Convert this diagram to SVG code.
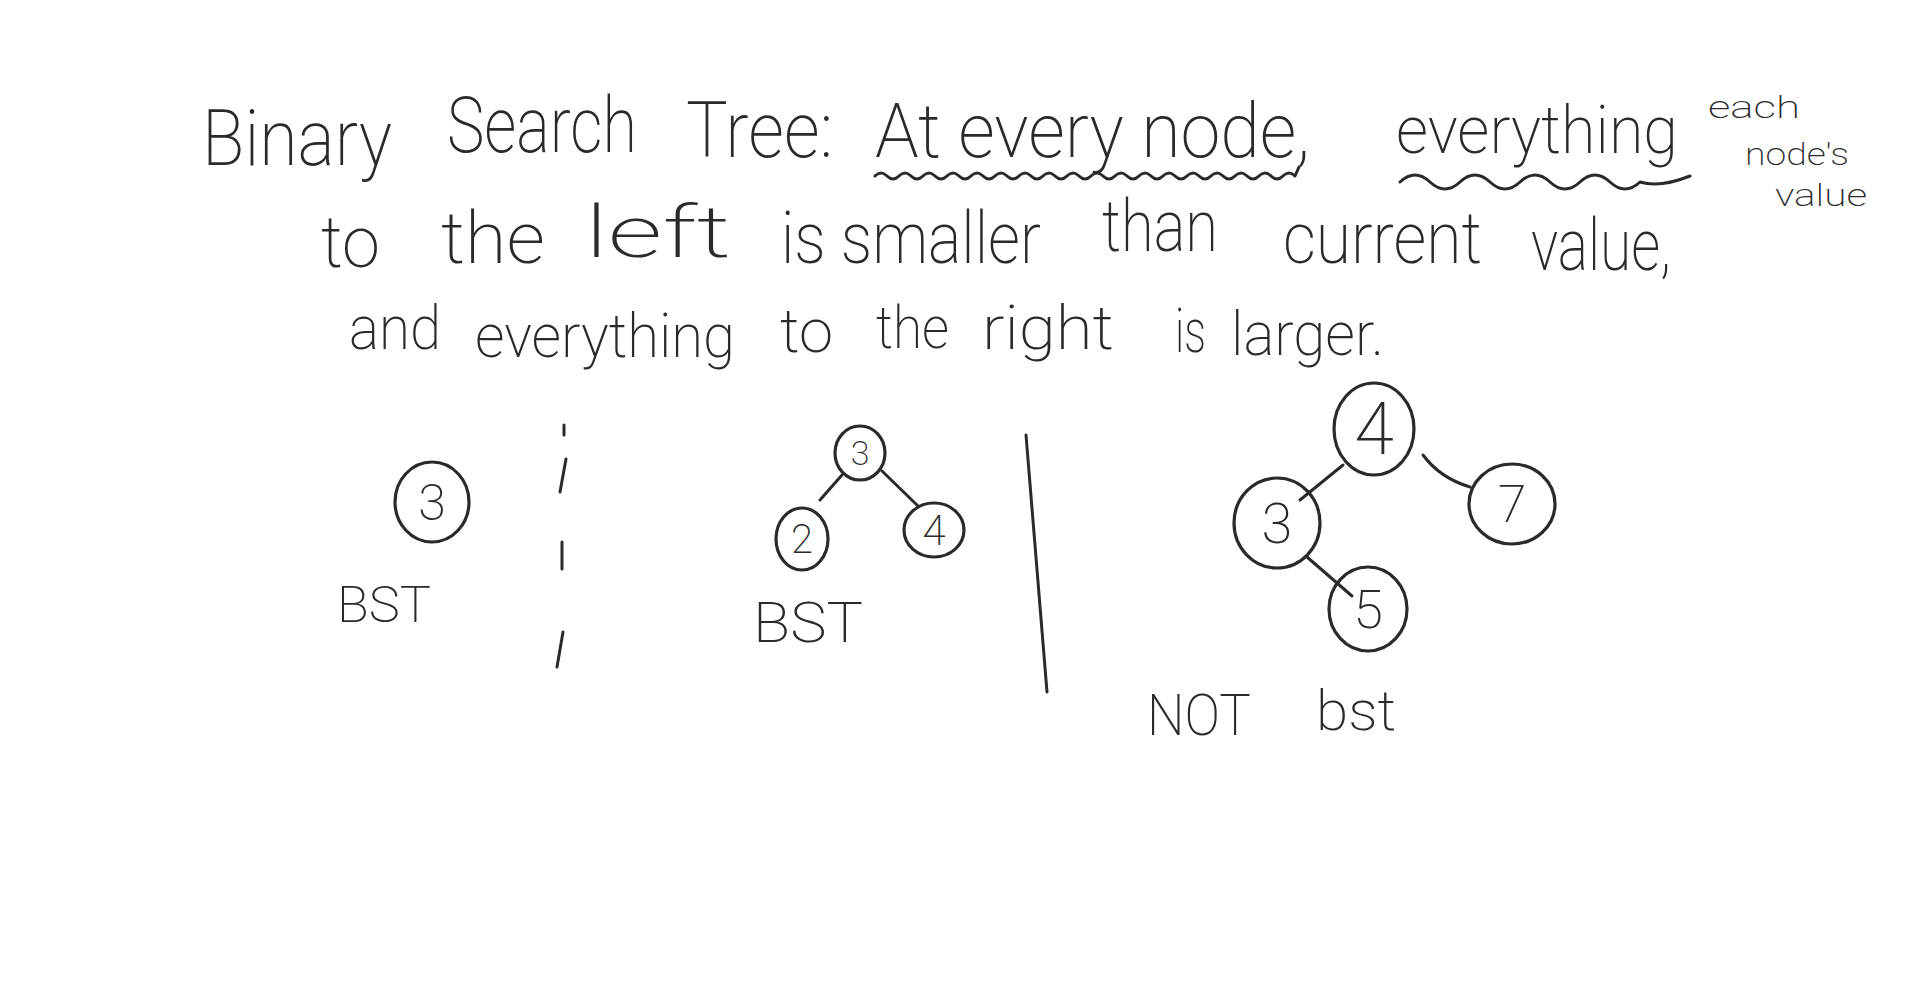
<svg xmlns="http://www.w3.org/2000/svg" width="1920" height="997" viewBox="0 0 1920 997">
<style>
.t{font-family:Roboto,"Liberation Sans",sans-serif;font-weight:200;fill:#2a2a2a}
.s{fill:none;stroke:#2a2a2a;stroke-width:3;stroke-linecap:round;stroke-linejoin:round}
.n{fill:none;stroke:#2a2a2a;stroke-width:3.2}
.d{font-family:Roboto,"Liberation Sans",sans-serif;font-weight:200;fill:#2a2a2a;text-anchor:middle}
</style>
<rect width="1920" height="997" fill="#ffffff"/>
<g id="heading">
<text class="t" x="202" y="165" font-size="78" textLength="190" lengthAdjust="spacingAndGlyphs">Binary</text>
<text class="t" x="447" y="152" font-size="78" textLength="190" lengthAdjust="spacingAndGlyphs">Search</text>
<text class="t" x="686" y="157" font-size="78" textLength="147" lengthAdjust="spacingAndGlyphs">Tree:</text>
<text class="t" x="875" y="157" font-size="76" textLength="435" lengthAdjust="spacingAndGlyphs">At every node,</text>
<text class="t" x="1396" y="153" font-size="67" textLength="282" lengthAdjust="spacingAndGlyphs">everything</text>
<text class="t" x="1708" y="118" font-size="32" textLength="92" lengthAdjust="spacingAndGlyphs">each</text>
<text class="t" x="1745" y="165" font-size="32" textLength="104" lengthAdjust="spacingAndGlyphs">node's</text>
<text class="t" x="1775" y="206" font-size="32" textLength="92" lengthAdjust="spacingAndGlyphs">value</text>
<path class="s" d="M875,176 q6,-6 12,0 t12,0 t12,0 t12,0 t12,0 t12,0 t12,0 t12,0 t12,0 t12,0 t12,0 t12,0 t12,0 t12,0 t12,0 t12,0 t12,0 t12,0 t12,0 t12,0 t12,0 t12,0 t12,0 t12,0 t12,0 t12,0 t12,0 t12,0 t12,0 t12,0 t12,0 t12,0 t12,0 t12,0 t12,0 l4,-9"/>
<path class="s" d="M1400,182 q15,-14 30,0 t30,0 t30,0 t30,0 t30,0 t30,0 t30,0 t30,0 q20,6 50,-6"/>
<text class="t" x="321" y="267" font-size="72" textLength="59" lengthAdjust="spacingAndGlyphs">to</text>
<text class="t" x="441" y="263" font-size="72" textLength="104" lengthAdjust="spacingAndGlyphs">the</text>
<text class="t" x="585" y="257" font-size="72" textLength="146" lengthAdjust="spacingAndGlyphs">left</text>
<text class="t" x="781" y="263" font-size="72" textLength="260" lengthAdjust="spacingAndGlyphs">is smaller</text>
<text class="t" x="1102" y="251" font-size="72" textLength="116" lengthAdjust="spacingAndGlyphs">than</text>
<text class="t" x="1283" y="263" font-size="72" textLength="199" lengthAdjust="spacingAndGlyphs">current</text>
<text class="t" x="1531" y="270" font-size="72" textLength="140" lengthAdjust="spacingAndGlyphs">value,</text>
<text class="t" x="349" y="349" font-size="62" textLength="92" lengthAdjust="spacingAndGlyphs">and</text>
<text class="t" x="475" y="357" font-size="62" textLength="260" lengthAdjust="spacingAndGlyphs">everything</text>
<text class="t" x="780" y="352" font-size="62" textLength="53" lengthAdjust="spacingAndGlyphs">to</text>
<text class="t" x="876" y="348" font-size="60" textLength="73" lengthAdjust="spacingAndGlyphs">the</text>
<text class="t" x="982" y="349" font-size="62" textLength="132" lengthAdjust="spacingAndGlyphs">right</text>
<text class="t" x="1175" y="352" font-size="62" textLength="31" lengthAdjust="spacingAndGlyphs">is</text>
<text class="t" x="1231" y="355" font-size="62" textLength="153" lengthAdjust="spacingAndGlyphs">larger.</text>
</g>
<g id="dividers">
<path class="s" d="M564,425 L564,435 M566,459 L560,492 M562,542 L562,569 M563,632 L557,667"/>
<path class="s" d="M1026,435 L1047,692"/>
</g>
<g id="connectors">
<path class="s" d="M842,475 L820,500"/>
<path class="s" d="M882,471 L918,506"/>
<path class="s" d="M1343,465 L1300,500"/>
<path class="s" d="M1423,455 Q1440,478 1470,487"/>
<path class="s" d="M1307,557 L1352,596"/>
</g>
<g id="node-left-3">
<ellipse class="n" cx="432" cy="502" rx="37" ry="40"/>
<text class="d" x="432" y="520" font-size="50">3</text>
</g>
<g id="label-left-bst"><text class="t" x="337" y="622" font-size="50" textLength="94" lengthAdjust="spacingAndGlyphs">BST</text></g>
<g id="node-mid-3">
<ellipse class="n" cx="860" cy="453" rx="25" ry="27"/>
<text class="d" x="860" y="465" font-size="34">3</text>
</g>
<g id="node-mid-2">
<ellipse class="n" cx="802" cy="539" rx="26" ry="31"/>
<text class="d" x="802" y="553" font-size="40">2</text>
</g>
<g id="node-mid-4">
<ellipse class="n" cx="934" cy="530" rx="30" ry="27"/>
<text class="d" x="934" y="545" font-size="42">4</text>
</g>
<g id="label-mid-bst"><text class="t" x="753" y="642" font-size="56" textLength="110" lengthAdjust="spacingAndGlyphs">BST</text></g>
<g id="node-right-4">
<ellipse class="n" cx="1374" cy="429" rx="40" ry="46"/>
<text class="d" x="1374" y="454" font-size="72">4</text>
</g>
<g id="node-right-3">
<ellipse class="n" cx="1277" cy="523" rx="43" ry="45"/>
<text class="d" x="1277" y="543" font-size="56">3</text>
</g>
<g id="node-right-7">
<ellipse class="n" cx="1512" cy="504" rx="43" ry="40"/>
<text class="d" x="1512" y="522" font-size="52">7</text>
</g>
<g id="node-right-5">
<ellipse class="n" cx="1368" cy="609" rx="39" ry="42"/>
<text class="d" x="1368" y="628" font-size="54">5</text>
</g>
<g id="label-not-bst">
<text class="t" x="1147" y="735" font-size="58" textLength="104" lengthAdjust="spacingAndGlyphs">NOT</text>
<text class="t" x="1316" y="730" font-size="56" textLength="80" lengthAdjust="spacingAndGlyphs">bst</text>
</g>
</svg>
